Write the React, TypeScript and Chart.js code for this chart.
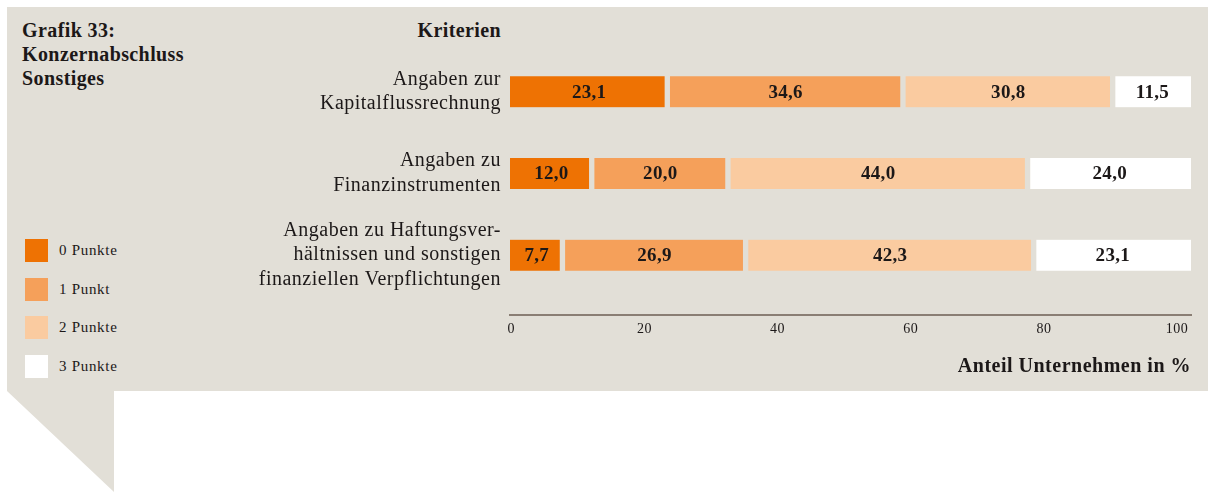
import React, { useEffect, useRef } from 'react';
import { Chart, registerables } from 'chart.js';

Chart.register(...registerables);

// ---- data ----
const categories: string[][] = [
  ['Angaben zur', 'Kapitalflussrechnung'],
  ['Angaben zu', 'Finanzinstrumenten'],
  ['Angaben zu Haftungsver-', 'hältnissen und sonstigen', 'finanziellen Verpflichtungen'],
];
const seriesLabels = ['0 Punkte', '1 Punkt', '2 Punkte', '3 Punkte'];
const punkte0 = [23.1, 12.0, 7.7];
const punkte1 = [34.6, 20.0, 26.9];
const punkte2 = [30.8, 44.0, 42.3];
const punkte3 = [11.5, 24.0, 23.1];
const xTicks = [0, 20, 40, 60, 80, 100];
const titleLines = ['Grafik 33:', 'Konzernabschluss', 'Sonstiges'];
const yAxisTitle = 'Kriterien';
const xAxisTitle = 'Anteil Unternehmen in %';

// ---- style ----
const BG = '#e2dfd7';
const TEXT = '#1c1818';
const AXIS = '#8a7e74';
const SERIES_COLORS = ['#ee7203', '#f5a05a', '#facba0', '#ffffff'];
const FONT = '"Liberation Serif", "Times New Roman", serif';

const seriesValues = [punkte0, punkte1, punkte2, punkte3];

const fmt = (v: number) => v.toFixed(1).replace('.', ',');

const spacingPlugin = {
  id: 'letterSpacing',
  beforeDraw(chart: any) {
    chart.ctx.letterSpacing = '0.5px';
  },
};

const valueLabelPlugin = {
  id: 'valueLabels',
  afterDatasetsDraw(chart: any) {
    const ctx = chart.ctx;
    ctx.save();
    ctx.letterSpacing = '0.3px';
    ctx.font = `bold 19px ${FONT}`;
    ctx.fillStyle = TEXT;
    ctx.textAlign = 'center';
    ctx.textBaseline = 'middle';
    chart.data.datasets.forEach((ds: any, i: number) => {
      const meta = chart.getDatasetMeta(i);
      meta.data.forEach((el: any, j: number) => {
        const { x, y, base } = el.getProps(['x', 'y', 'base'], true);
        ctx.fillText(fmt(ds.data[j]), (x + base) / 2 + 0.5, y + 1);
      });
    });
    ctx.restore();
  },
};

export default function App() {
  const canvasRef = useRef<HTMLCanvasElement | null>(null);

  useEffect(() => {
    if (!canvasRef.current) return;
    const last = seriesValues.length - 1;
    const chart = new Chart(canvasRef.current, {
      type: 'bar',
      data: {
        labels: categories,
        datasets: seriesValues.map((data, i) => ({
          label: seriesLabels[i],
          data,
          backgroundColor: SERIES_COLORS[i],
          borderColor: BG,
          borderWidth: {
            top: 0,
            bottom: 0,
            left: i === 0 ? 0 : 3,
            right: i === last ? 0 : 3,
          },
          borderSkipped: false,
          barThickness: 31,
          xAxisID: 'x',
          yAxisID: 'y',
        })),
      },
      options: {
        indexAxis: 'y',
        animation: false,
        responsive: false,
        devicePixelRatio: 1,
        layout: { padding: { left: 0, right: 17, top: 51, bottom: 113 } },
        plugins: {
          legend: { display: false },
          tooltip: { enabled: false },
        },
        scales: {
          y: {
            stacked: true,
            grid: { display: false, drawTicks: false },
            border: { display: false },
            ticks: {
              padding: 9,
              color: TEXT,
              font: { family: FONT, size: 20, lineHeight: 1.23 },
            },
            afterFit: (s: any) => {
              s.width = 510;
            },
          },
          x: {
            stacked: true,
            min: 0,
            max: 100,
            position: 'bottom',
            grid: { display: false, drawTicks: false },
            border: { display: false },
            ticks: { display: false },
            afterFit: (s: any) => {
              s.height = 19;
            },
          },
          x2: {
            type: 'linear',
            position: 'bottom',
            min: -0.2,
            max: 102.1,
            grid: { display: false, drawTicks: false },
            border: { display: true, color: AXIS, width: 2 },
            afterBuildTicks: (s: any) => {
              s.ticks = xTicks.map((v) => ({ value: v }));
            },
            ticks: {
              padding: 6,
              color: TEXT,
              maxRotation: 0,
              autoSkip: false,
              font: { family: FONT, size: 14 },
              callback: (v: any) => String(v),
            },
            title: {
              display: true,
              text: xAxisTitle,
              align: 'end',
              color: TEXT,
              padding: 0,
              font: { family: FONT, size: 20, weight: 'bold', lineHeight: 1.2 },
            },
            afterFit: (s: any) => {
              s.height = 64;
            },
          },
        },
      } as any,
      plugins: [spacingPlugin, valueLabelPlugin],
    });
    return () => chart.destroy();
  }, []);

  return (
    <div
      style={{
        position: 'absolute',
        left: 0,
        top: 0,
        width: 1208,
        height: 492,
        overflow: 'hidden',
        background: '#ffffff',
        fontFamily: FONT,
        color: TEXT,
      }}
    >
      <div style={{ position: 'absolute', left: 7, top: 7, width: 1201, height: 384, background: BG }} />
      <div
        style={{
          position: 'absolute',
          left: 7,
          top: 391,
          width: 107,
          height: 101,
          background: BG,
          clipPath: 'polygon(0 0, 100% 0, 100% 100%)',
        }}
      />
      <div
        style={{
          position: 'absolute',
          left: 22,
          top: 18,
          fontWeight: 'bold',
          fontSize: 20,
          lineHeight: '24px',
          letterSpacing: '0.4px',
          whiteSpace: 'nowrap',
        }}
      >
        {titleLines.map((t) => (
          <div key={t}>{t}</div>
        ))}
      </div>
      <div
        style={{
          position: 'absolute',
          right: 1208 - 501,
          top: 18,
          fontWeight: 'bold',
          fontSize: 20,
          lineHeight: '24px',
          letterSpacing: '0.4px',
          whiteSpace: 'nowrap',
        }}
      >
        {yAxisTitle}
      </div>
      {seriesLabels.map((lab, i) => (
        <div
          key={lab}
          style={{ position: 'absolute', left: 25, top: 239 + i * 38.7, height: 23, display: 'flex', alignItems: 'center' }}
        >
          <div style={{ width: 23, height: 23, background: SERIES_COLORS[i] }} />
          <div style={{ marginLeft: 11, fontSize: 15, letterSpacing: '0.7px', lineHeight: '23px', whiteSpace: 'nowrap' }}>
            {lab}
          </div>
        </div>
      ))}
      <canvas ref={canvasRef} width={1208} height={492} style={{ position: 'absolute', left: 0, top: 0 }} />
    </div>
  );
}
